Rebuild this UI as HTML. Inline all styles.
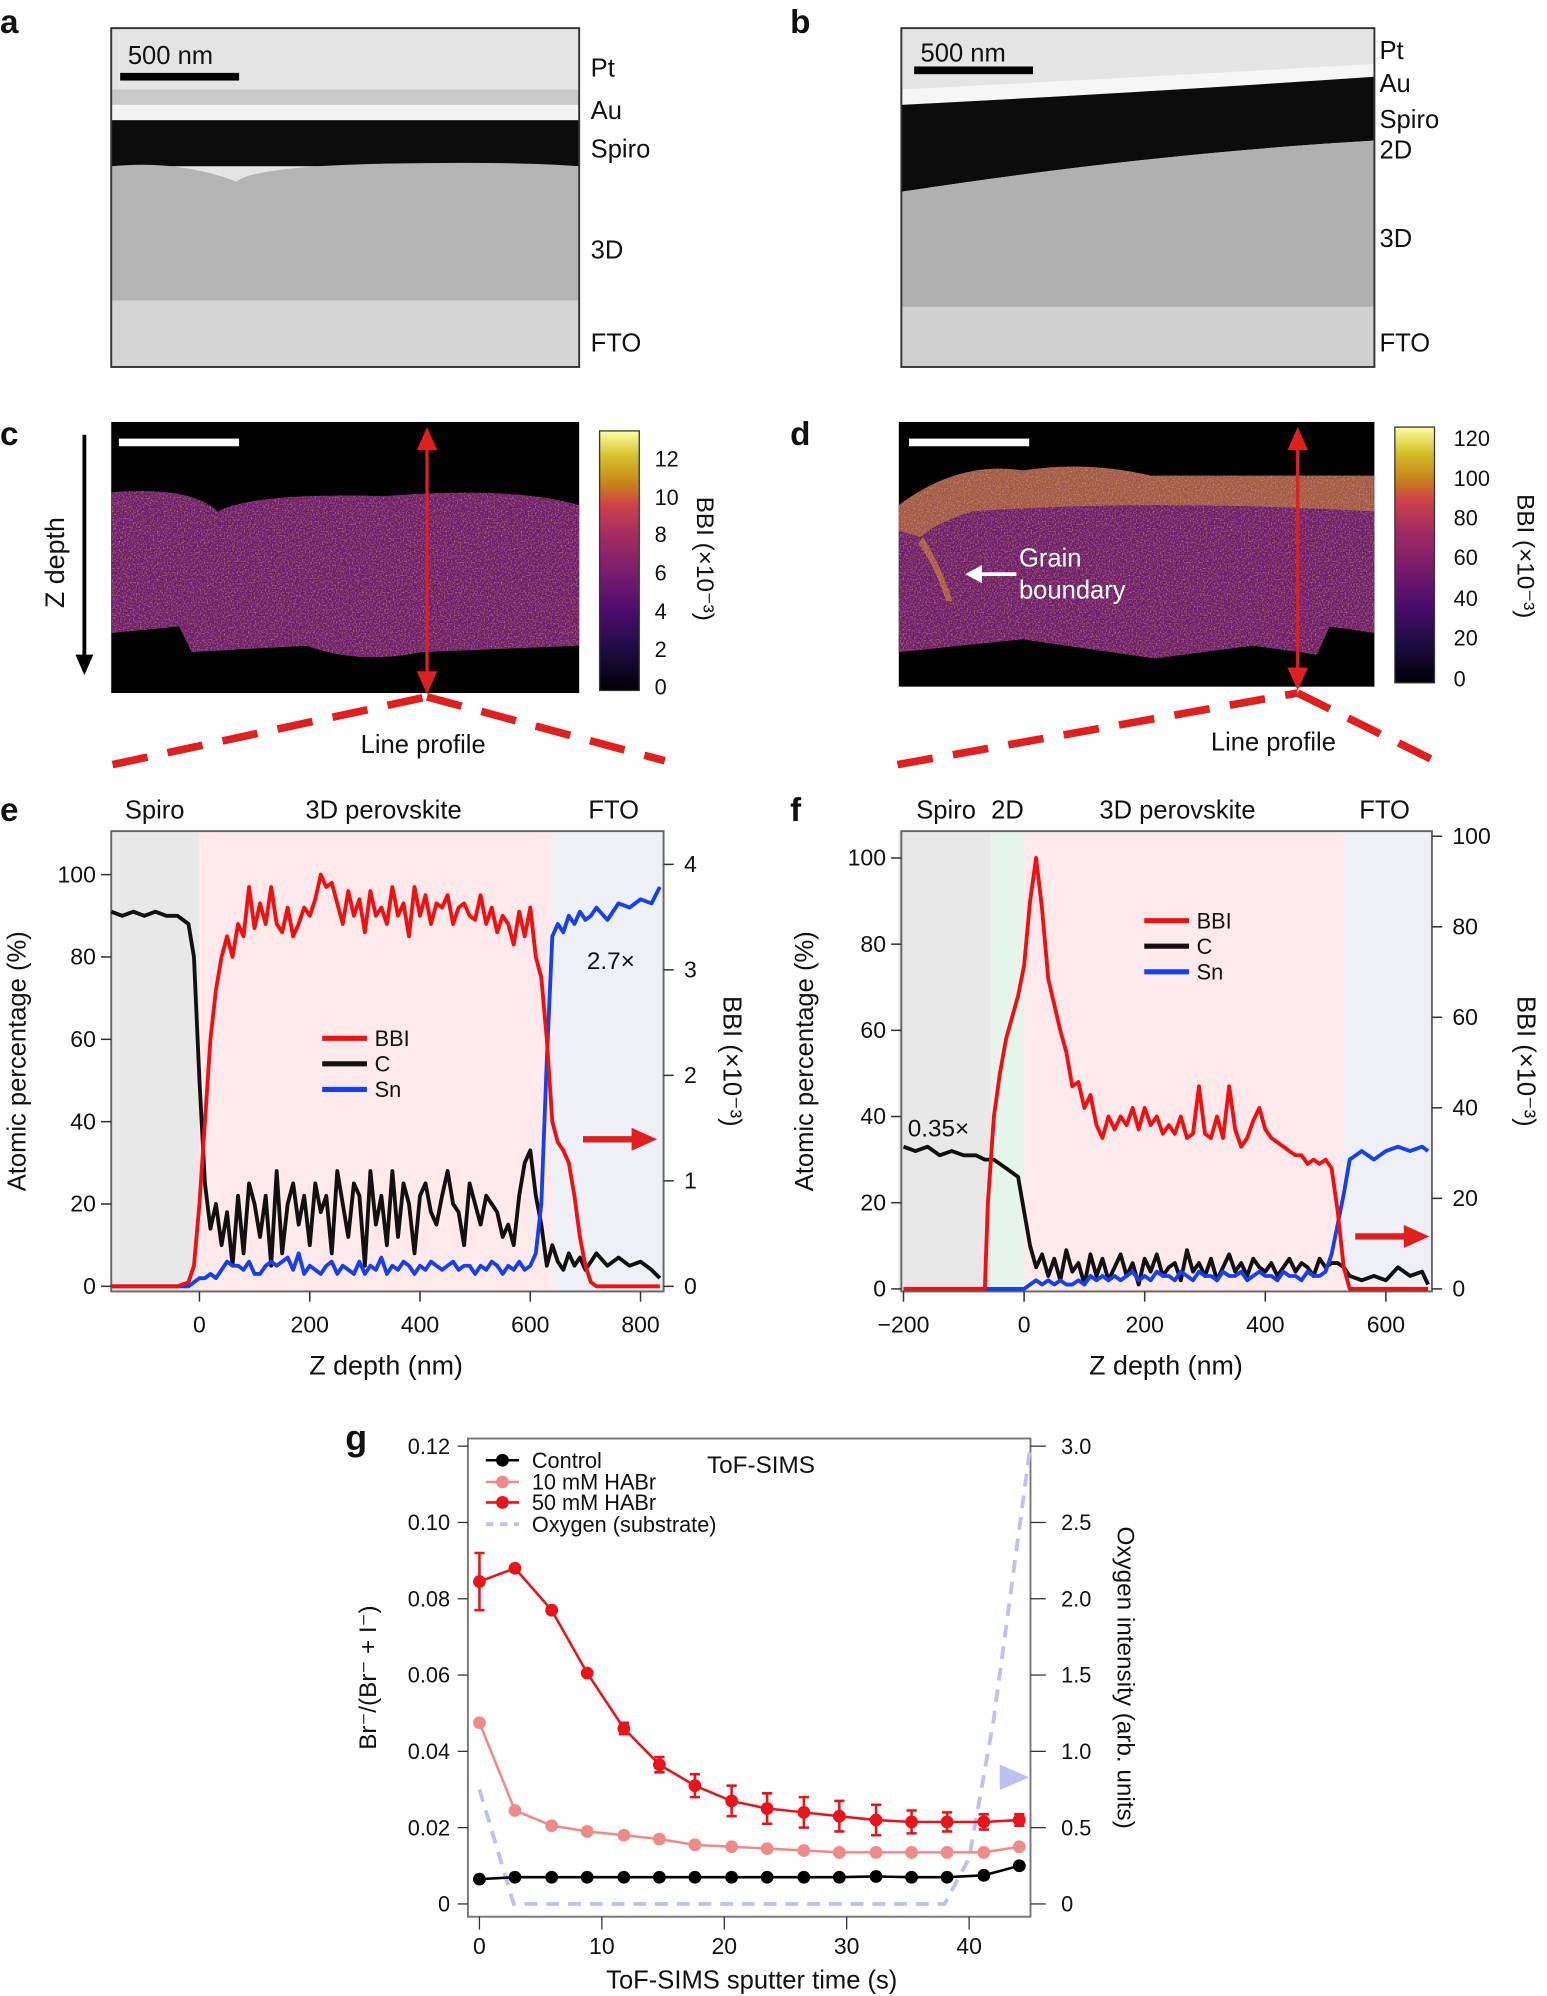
<!DOCTYPE html>
<html><head><meta charset="utf-8"><style>
html,body{margin:0;padding:0;background:#fff}
svg{display:block}
text{font-family:"Liberation Sans",sans-serif;fill:#111}
</style></head><body>
<svg id="fig" width="1547" height="1996" viewBox="0 0 1210 1561" preserveAspectRatio="none" xmlns="http://www.w3.org/2000/svg">
<defs>
<linearGradient id="cmap" x1="0" y1="1" x2="0" y2="0">
<stop offset="0" stop-color="#000004"/><stop offset="0.15" stop-color="#1b0c41"/><stop offset="0.3" stop-color="#4a0c6b"/><stop offset="0.45" stop-color="#781c6d"/><stop offset="0.6" stop-color="#a52c60"/><stop offset="0.72" stop-color="#cf4446"/><stop offset="0.8" stop-color="#c8861a"/><stop offset="0.9" stop-color="#d4c02a"/><stop offset="1" stop-color="#fcffa4"/>
</linearGradient>
<filter id="noise"><feTurbulence type="fractalNoise" baseFrequency="0.9" numOctaves="1" result="n"/><feColorMatrix in="n" type="matrix" values="0 0 0 0 0.8  0 0 0 0 0.45  0 0 0 0 0.1  0 0 0 1.6 -0.7"/><feComposite in2="SourceGraphic" operator="in"/></filter>
</defs>

<!-- panel a -->
<g>
<text x="0" y="26" font-size="26" font-weight="bold">a</text>
<rect x="87" y="22" width="366" height="265" fill="#e4e4e4"/>
<rect x="87" y="70" width="366" height="12" fill="#c8c8c8"/>
<rect x="87" y="82" width="366" height="12" fill="#f4f4f4"/>
<rect x="87" y="94" width="366" height="36" fill="#0c0c0c"/>
<path d="M87,130 Q140,125 185,142 Q200,130 300,128 Q400,126 453,130 L453,235 L87,235z" fill="#b4b4b4"/>
<path d="M87,235 L453,235 L453,287 L87,287z" fill="#d4d4d4"/>
<rect x="87" y="22" width="366" height="265" fill="none" stroke="#333" stroke-width="1.5"/>
<rect x="94" y="57" width="93" height="6" fill="#000"/>
<text x="100" y="50" font-size="20">500 nm</text>
<text x="462" y="60" font-size="20">Pt</text><text x="462" y="93" font-size="20">Au</text><text x="462" y="123" font-size="20">Spiro</text><text x="462" y="202" font-size="20">3D</text><text x="462" y="275" font-size="20">FTO</text>
</g>
<!-- panel b -->
<g>
<text x="618" y="26" font-size="26" font-weight="bold">b</text>
<rect x="705" y="22" width="370" height="265" fill="#e4e4e4"/>
<path d="M705,70 Q900,60 1075,50 L1075,60 Q900,72 705,82z" fill="#f6f6f6"/>
<path d="M705,82 Q900,72 1075,60 L1075,110 Q900,120 705,150z" fill="#0c0c0c"/>
<path d="M705,150 Q900,120 1075,110 L1075,240 L705,240z" fill="#b0b0b0"/>
<rect x="705" y="240" width="370" height="47" fill="#cfcfcf"/>
<rect x="705" y="22" width="370" height="265" fill="none" stroke="#333" stroke-width="1.5"/>
<rect x="715" y="52" width="93" height="6" fill="#000"/>
<text x="720" y="48" font-size="20">500 nm</text>
<text x="1079" y="46" font-size="20">Pt</text><text x="1079" y="72" font-size="20">Au</text><text x="1079" y="100" font-size="20">Spiro</text><text x="1079" y="124" font-size="20">2D</text><text x="1079" y="193" font-size="20">3D</text><text x="1079" y="275" font-size="20">FTO</text>
</g>
<!-- panel c -->
<g>
<text x="0" y="348" font-size="26" font-weight="bold">c</text>
<line x1="66" y1="340" x2="66" y2="515" stroke="#000" stroke-width="3"/><path d="M59,512 L73,512 L66,528z" fill="#000"/>
<text transform="translate(50,440) rotate(-90)" font-size="21" text-anchor="middle">Z depth</text>
<rect x="87" y="330" width="366" height="212" fill="#000"/>
<path d="M87,385 Q150,380 170,400 Q200,385 300,388 Q400,380 453,395 L453,505 L330,510 Q280,520 240,505 L150,510 L140,490 L87,495z" fill="#6a1a70"/>
<path d="M87,385 Q150,380 170,400 Q200,385 300,388 Q400,380 453,395 L453,505 L330,510 Q280,520 240,505 L150,510 L140,490 L87,495z" fill="#c96a30" filter="url(#noise)"/>
<rect x="93" y="343" width="94" height="6" fill="#fff"/>
<rect x="469" y="337" width="31" height="203" fill="url(#cmap)" stroke="#333" stroke-width="1"/>
<g font-size="17">
<text x="512" y="365">12</text><text x="512" y="395">10</text><text x="512" y="424">8</text><text x="512" y="454">6</text><text x="512" y="484">4</text><text x="512" y="514">2</text><text x="512" y="543">0</text></g>
<text transform="translate(545,437) rotate(90)" font-size="19" text-anchor="middle">BBI (×10⁻³)</text>
</g>
<!-- panel d -->
<g>
<text x="618" y="348" font-size="26" font-weight="bold">d</text>
<rect x="703" y="330" width="372" height="207" fill="#000"/>
<path d="M703,395 Q750,360 800,368 Q850,360 900,372 L1075,372 L1075,495 L1040,490 L1030,512 L980,505 L903,515 L800,500 L703,510z" fill="#6a1a70"/>
<path d="M703,395 Q750,360 800,368 Q850,360 900,372 L1075,372 L1075,400 Q900,390 760,400 Q730,410 720,420 L703,415z" fill="#c98a30" opacity="0.55"/>
<path d="M722,420 Q735,440 745,470 L740,470 Q730,440 718,425z" fill="#c98a30" opacity="0.6"/>
<path d="M703,395 Q750,360 800,368 Q850,360 900,372 L1075,372 L1075,495 L1040,490 L1030,512 L980,505 L903,515 L800,500 L703,510z" fill="#c96a30" filter="url(#noise)"/>
<rect x="711" y="343" width="94" height="6" fill="#fff"/>
<line x1="795" y1="449" x2="765" y2="449" stroke="#fff" stroke-width="3"/><path d="M768,442 L755,449 L768,456z" fill="#fff"/>
<text x="797" y="443" font-size="20" style="fill:#fff">Grain</text><text x="797" y="468" font-size="20" style="fill:#fff">boundary</text>
<rect x="1091" y="334" width="31" height="200" fill="url(#cmap)" stroke="#333" stroke-width="1"/>
<g font-size="17"><text x="1137" y="349">120</text><text x="1137" y="380">100</text><text x="1137" y="411">80</text><text x="1137" y="442">60</text><text x="1137" y="474">40</text><text x="1137" y="505">20</text><text x="1137" y="537">0</text></g>
<text transform="translate(1187,435) rotate(90)" font-size="19" text-anchor="middle">BBI (×10⁻³)</text>
</g>
<!-- red arrows & dashes -->
<g>
<line x1="334" y1="345" x2="334" y2="532" stroke="#e0201e" stroke-width="2.5"/>
<path d="M326,352 L334,334 L342,352z M326,525 L334,543 L342,525z" fill="#e0201e"/>
<line x1="88" y1="598" x2="334" y2="545" stroke="#e0201e" stroke-width="6" stroke-dasharray="28,16"/>
<line x1="334" y1="545" x2="520" y2="595" stroke="#e0201e" stroke-width="6" stroke-dasharray="28,16"/>
<text x="331" y="589" font-size="20" text-anchor="middle">Line profile</text>
<line x1="1015" y1="345" x2="1015" y2="528" stroke="#e0201e" stroke-width="2.5"/>
<path d="M1007,352 L1015,334 L1023,352z M1007,522 L1015,540 L1023,522z" fill="#e0201e"/>
<line x1="702" y1="598" x2="1015" y2="542" stroke="#e0201e" stroke-width="6" stroke-dasharray="28,16"/>
<line x1="1015" y1="542" x2="1122" y2="595" stroke="#e0201e" stroke-width="6" stroke-dasharray="28,16"/>
<text x="996" y="587" font-size="20" text-anchor="middle">Line profile</text>
</g>

<g id="pe"></g>
<g id="pf"></g>
<g id="pg"></g>
</svg>
<script>
// ---- panel e data ----
const eX = [-160,-140,-120,-100,-80,-60,-40,-20,-10,0,10,20,30,40,50,60,70,80,90,100,110,120,130,140,150,160,170,180,190,200,210,220,230,240,250,260,270,280,290,300,310,320,330,340,350,360,370,380,390,400,410,420,430,440,450,460,470,480,490,500,510,520,530,540,550,560,570,580,590,600,610,620,630,640,650,660,670,680,690,700,710,720,740,760,780,800,820,835];
const eBBI = [0,0,0,0,0,0,0,1,5,20,40,60,72,80,85,80,88,85,97,87,93,88,97,88,86,92,85,88,92,90,94,100,97,98,93,88,96,90,94,86,96,90,92,88,97,90,93,85,97,90,95,88,93,92,95,88,92,93,90,89,95,88,92,86,90,88,83,91,85,92,80,75,60,40,35,33,30,22,12,5,1,0,0,0,0,0,0,0];
const eC = [91,90,91,90,91,90,90,88,80,50,25,14,20,10,18,5,22,8,25,20,12,22,5,28,8,20,25,15,22,10,25,18,22,8,28,20,12,25,22,5,28,15,22,10,28,12,25,20,8,22,25,18,15,22,28,20,18,10,25,20,15,22,20,18,12,15,10,22,30,33,22,15,5,10,6,4,8,5,7,4,6,8,5,7,5,6,4,2];
const eSn = [0,0,0,0,0,0,0,0,1,2,2,3,2,4,6,5,5,4,6,3,3,5,6,5,6,7,4,8,3,5,4,3,5,6,3,5,4,3,6,3,5,4,7,3,5,4,6,5,3,5,4,6,5,4,5,6,4,5,5,3,5,4,6,5,3,5,4,6,4,5,8,20,55,85,88,86,90,88,91,89,90,92,89,93,92,94,93,97];
const eXTicks = [0,200,400,600,800];
const eLTicks = [0,20,40,60,80,100];
const eRTicks = [0,1,2,3,4];
// ---- panel f data ----
const fX = [-200,-180,-160,-140,-120,-100,-80,-65,-60,-50,-40,-30,-20,-10,0,10,20,30,40,50,60,70,80,90,100,110,120,130,140,150,160,170,180,190,200,210,220,230,240,250,260,270,280,290,300,310,320,330,340,350,360,370,380,390,400,410,420,430,440,450,460,470,480,490,500,510,520,530,540,560,580,600,620,640,660,670];
const fBBI = [0,0,0,0,0,0,0,0,20,40,50,58,63,68,75,90,100,88,72,66,60,55,47,48,42,45,38,35,40,37,40,38,42,37,42,38,40,36,38,36,40,35,36,47,36,35,40,35,47,37,33,35,39,42,37,35,34,33,32,31,31,29,30,29,30,28,18,5,0,0,0,0,0,0,0,0];
const fC = [33,32,33,31,32,31,31,30,30,30,29,28,27,26,18,10,5,8,3,7,2,9,4,6,1,8,3,7,2,5,8,3,6,1,7,4,8,3,5,6,2,9,4,6,3,7,2,5,8,4,6,3,7,5,4,6,3,5,7,4,6,5,3,7,5,6,6,5,3,2,3,2,5,3,4,1];
const fSn = [0,0,0,0,0,0,0,0,0,0,0,0,0,0,0,1,2,1,2,1,2,1,1,2,1,3,2,3,2,3,2,3,4,2,3,2,4,3,3,2,4,3,2,4,3,3,2,4,3,3,4,2,3,4,3,3,2,4,3,3,2,4,3,3,4,8,15,22,30,32,30,32,33,32,33,32];
const fXTicks = [-200,0,200,400,600];
const fLTicks = [0,20,40,60,80,100];
const fRTicks = [0,20,40,60,80,100];
// ---- panel g data ----
const gT = [0,2.9,5.9,8.8,11.8,14.7,17.6,20.6,23.5,26.5,29.4,32.4,35.3,38.2,41.2,44.1];
const g50 = [0.0845,0.088,0.077,0.0605,0.046,0.0365,0.031,0.027,0.025,0.024,0.023,0.022,0.0215,0.0215,0.0215,0.022];
const g50err = [0.0075,0,0,0,0.0015,0.002,0.003,0.004,0.004,0.004,0.004,0.004,0.003,0.0025,0.002,0.0015];
const g10 = [0.0475,0.0245,0.0205,0.019,0.018,0.017,0.0155,0.015,0.0145,0.014,0.0135,0.0135,0.0135,0.0135,0.0135,0.015];
const gCtrl = [0.0065,0.007,0.007,0.007,0.007,0.007,0.007,0.007,0.007,0.007,0.007,0.0072,0.007,0.007,0.0075,0.010];
const gOxT = [0,2.8,38,40,42,45];
const gOxV = [0.75,0,0,0.3,1.2,3.0];
const gXTicks = [0,10,20,30,40];
const gLTicks = [0,0.02,0.04,0.06,0.08,0.10,0.12];
const gLLabels = ["0","0.02","0.04","0.06","0.08","0.10","0.12"];
const gRTicks = [0,0.5,1.0,1.5,2.0,2.5,3.0];
const gRLabels = ["0","0.5","1.0","1.5","2.0","2.5","3.0"];

const NS="http://www.w3.org/2000/svg";
function mk(parent,tag,attrs,txt){const e=document.createElementNS(NS,tag);for(const k in attrs)e.setAttribute(k,attrs[k]);if(txt!==undefined)e.textContent=txt;parent.appendChild(e);return e;}
function lin(d0,d1,r0,r1){return v=>r0+(v-d0)*(r1-r0)/(d1-d0);}
function path(xs,ys,sx,sy){return xs.map((x,i)=>(i?'L':'M')+sx(x).toFixed(1)+','+sy(ys[i]).toFixed(1)).join('');}

function profile(g,o){
  const sx=lin(o.xd[0],o.xd[1],o.x0,o.x1), sy=lin(0,100,o.yb,o.yt100), sr=lin(0,o.rmax,o.yb,o.rtop);
  o.regions.forEach(r=>{const el=mk(g,'rect',{x:sx(r[0]),y:o.top,width:sx(r[1])-sx(r[0]),height:o.bot-o.top,fill:r[2]});
    
    });
  const fr=mk(g,'rect',{x:o.L,y:o.top,width:o.R-o.L,height:o.bot-o.top,fill:'none',stroke:'#666','stroke-width':1.5});
  
  
  const series=[[o.c,'#111','c-line'],[o.sn,'#1440f0','sn-line'],[o.bbi,'#f01010','bbi-line']];
  series.forEach(s=>{const p=mk(g,'path',{d:path(o.xs,s[0],sx,sy),fill:'none',stroke:s[1],'stroke-width':3,'stroke-linejoin':'round'});
    
    });
  o.xt.forEach(t=>{mk(g,'line',{x1:sx(t),x2:sx(t),y1:o.bot,y2:o.bot+8,stroke:'#333','stroke-width':1.2});
    const tx=mk(g,'text',{x:sx(t),y:o.bot+32,'font-size':18,'text-anchor':'middle'},t<0?'\u2212'+(-t):t);
    
    });
  o.lt.forEach(t=>{mk(g,'line',{x1:o.L-8,x2:o.L,y1:sy(t),y2:sy(t),stroke:'#333','stroke-width':1.2});
    const tx=mk(g,'text',{x:o.L-12,y:sy(t)+6,'font-size':18,'text-anchor':'end'},t);
    
    });
  o.rt.forEach(t=>{mk(g,'line',{x1:o.R,x2:o.R+8,y1:sr(t),y2:sr(t),stroke:'#333','stroke-width':1.2});
    const tx=mk(g,'text',{x:o.R+16,y:sr(t)+6,'font-size':18},t);
    
    });
}
const pe=document.getElementById('pe');
mk(pe,'text',{x:0,y:642,'font-size':26,'font-weight':'bold'},'e');
profile(pe,{xd:[0,800],x0:156,x1:501,yb:1006,yt100:684,rmax:4,rtop:676,L:87,R:519,top:650,bot:1010,
  regions:[[-160,0,'#e8e8e8','spiro'],[0,640,'#ffe9ea','3d-perovskite'],[640,844,'#eef0f6','fto']],
  xs:eX,bbi:eBBI,c:eC,sn:eSn,xt:eXTicks,lt:eLTicks,rt:eRTicks});
mk(pe,'text',{x:121,y:640,'font-size':20,'text-anchor':'middle'},'Spiro');
mk(pe,'text',{x:300,y:640,'font-size':20,'text-anchor':'middle'},'3D perovskite');
mk(pe,'text',{x:480,y:640,'font-size':20,'text-anchor':'middle'},'FTO');
mk(pe,'text',{x:459,y:758,'font-size':19},'2.7×');
mk(pe,'line',{x1:456,y1:891,x2:500,y2:891,stroke:'#e0201e','stroke-width':5});
mk(pe,'path',{d:'M494,882 L514,891 L494,900z',fill:'#e0201e'});
[['BBI','#f01010',812],['C','#111',832],['Sn','#1440f0',852]].forEach(l=>{mk(pe,'line',{x1:252,x2:287,y1:l[2],y2:l[2],stroke:l[1],'stroke-width':4});mk(pe,'text',{x:293,y:l[2]+6,'font-size':17},l[0]);});
mk(pe,'text',{transform:'translate(20,830) rotate(-90)','font-size':20,'text-anchor':'middle'},'Atomic percentage (%)');
mk(pe,'text',{transform:'translate(566,830) rotate(90)','font-size':20,'text-anchor':'middle'},'BBI (×10⁻³)');
mk(pe,'text',{x:302,y:1075,'font-size':21,'text-anchor':'middle'},'Z depth (nm)');

const pf=document.getElementById('pf');
mk(pf,'text',{x:618,y:642,'font-size':26,'font-weight':'bold'},'f');
profile(pf,{xd:[0,600],x0:801,x1:1084,yb:1008,yt100:671,rmax:100,rtop:654,L:705,R:1120,top:650,bot:1010,
  regions:[[-208,-55,'#e8e8e8','spiro'],[-55,0,'#e6f5ec','2d'],[0,530,'#ffe9ea','3d-perovskite'],[530,677,'#eef0f6','fto']],
  xs:fX,bbi:fBBI,c:fC,sn:fSn,xt:fXTicks,lt:fLTicks,rt:fRTicks});
[['Spiro',740],['2D',788],['3D perovskite',921],['FTO',1083]].forEach(l=>mk(pf,'text',{x:l[1],y:640,'font-size':20,'text-anchor':'middle'},l[0]));
mk(pf,'text',{x:710,y:889,'font-size':19},'0.35×');
mk(pf,'line',{x1:1060,y1:967,x2:1102,y2:967,stroke:'#e0201e','stroke-width':5});
mk(pf,'path',{d:'M1098,958 L1118,967 L1098,976z',fill:'#e0201e'});
[['BBI','#f01010',720],['C','#111',740],['Sn','#1440f0',760]].forEach(l=>{mk(pf,'line',{x1:895,x2:930,y1:l[2],y2:l[2],stroke:l[1],'stroke-width':4});mk(pf,'text',{x:936,y:l[2]+6,'font-size':17},l[0]);});
mk(pf,'text',{transform:'translate(636,830) rotate(-90)','font-size':20,'text-anchor':'middle'},'Atomic percentage (%)');
mk(pf,'text',{transform:'translate(1187,830) rotate(90)','font-size':20,'text-anchor':'middle'},'BBI (×10⁻³)');
mk(pf,'text',{x:912,y:1075,'font-size':21,'text-anchor':'middle'},'Z depth (nm)');

// panel g
const pg=document.getElementById('pg');
const gx=lin(0,40,375,758), gy=lin(0,0.12,1489,1131), gr=lin(0,3,1489,1131);
mk(pg,'text',{x:270,y:1134,'font-size':28,'font-weight':'bold'},'g');
const gf=mk(pg,'rect',{x:366,y:1125,width:440,height:374,fill:'none',stroke:'#777','stroke-width':1.5});


gXTicks.forEach(t=>{mk(pg,'line',{x1:gx(t),x2:gx(t),y1:1499,y2:1509,stroke:'#333'});
  const tx=mk(pg,'text',{x:gx(t),y:1528,'font-size':18,'text-anchor':'middle'},t);
  
  });
gLTicks.forEach((t,i)=>{mk(pg,'line',{x1:358,x2:366,y1:gy(t),y2:gy(t),stroke:'#333'});
  const tx=mk(pg,'text',{x:352,y:gy(t)+6,'font-size':17,'text-anchor':'end'},gLLabels[i]);
  
  });
gRTicks.forEach((t,i)=>{mk(pg,'line',{x1:806,x2:818,y1:gr(t),y2:gr(t),stroke:'#333'});
  const tx=mk(pg,'text',{x:830,y:gr(t)+6,'font-size':17},gRLabels[i]);
  
  });
const ox=mk(pg,'path',{d:path(gOxT,gOxV,gx,gr),fill:'none',stroke:'#c0c0f0','stroke-width':3,'stroke-dasharray':'10,7'});


mk(pg,'path',{d:'M782,1380 L805,1390 L782,1400z',fill:'#c0c0f0'});
function gseries(vals,col,name,err){
  const p=mk(pg,'path',{d:path(gT,vals,gx,gy),fill:'none',stroke:col,'stroke-width':2});
  
  
  vals.forEach((v,i)=>{
    if(err&&err[i]>0){const x=gx(gT[i]);mk(pg,'path',{d:`M${x},${gy(v-err[i])}V${gy(v+err[i])}M${x-4},${gy(v-err[i])}h8M${x-4},${gy(v+err[i])}h8`,stroke:col,'stroke-width':2,fill:'none'});}
    const c=mk(pg,'circle',{cx:gx(gT[i]),cy:gy(v),r:5,fill:col});
    
    
  });
}
gseries(g10,'#f08a88','10mm-habr');
gseries(g50,'#e8141a','50mm-habr',g50err);
gseries(gCtrl,'#000','control');
[['Control','#000',1142,0],['10 mM HABr','#f08a88',1159,0],['50 mM HABr','#e8141a',1175,0],['Oxygen (substrate)','#c0c0f0',1192,1]].forEach(l=>{
  if(l[3]) mk(pg,'line',{x1:380,x2:406,y1:l[2],y2:l[2],stroke:l[1],'stroke-width':3,'stroke-dasharray':'6,5'});
  else {mk(pg,'line',{x1:380,x2:406,y1:l[2],y2:l[2],stroke:l[1],'stroke-width':2});mk(pg,'circle',{cx:393,cy:l[2],r:5,fill:l[1]});}
  mk(pg,'text',{x:416,y:l[2]+6,'font-size':17},l[0]);});
mk(pg,'text',{x:553,y:1152,'font-size':19},'ToF-SIMS');
mk(pg,'text',{transform:'translate(294,1312) rotate(-90)','font-size':19,'text-anchor':'middle'},'Br⁻/(Br⁻ + I⁻)');
mk(pg,'text',{transform:'translate(874,1312) rotate(90)','font-size':19,'text-anchor':'middle'},'Oxygen intensity (arb. units)');
mk(pg,'text',{x:588,y:1555,'font-size':20,'text-anchor':'middle'},'ToF-SIMS sputter time (s)');
</script>
</body></html>
